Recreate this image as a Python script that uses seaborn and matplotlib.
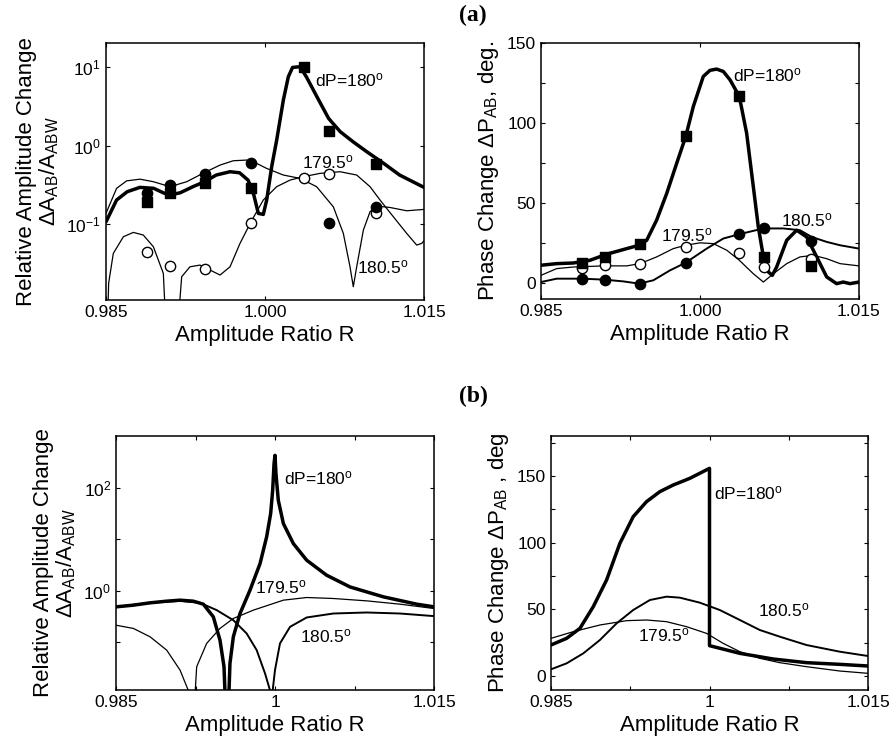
import matplotlib
matplotlib.use("Agg")
import matplotlib.pyplot as plt
import seaborn as sns

# ---------------- data ----------------
# measured points, same R for both upper panels
meas_r = [0.9889, 0.9910, 0.9943, 0.9987, 1.0037, 1.0060, 1.0105]

# (a) amplitude change, measured
amp_sq_180 = [0.19, 0.25, 0.34, 0.29, 10.0, 1.53, 0.59]
amp_fc_1805 = [0.25, 0.315, 0.44, 0.61, None, 0.105, 0.167]
amp_oc_1795 = [0.045, 0.0296, 0.0274, 0.105, 0.39, 0.44, 0.138]

# (a) amplitude change, model curves
a_amp_x180 = [0.985, 0.986, 0.987, 0.9882, 0.9895, 0.9904, 0.9910, 0.9920, 0.9932, 0.9943,
              0.9954, 0.9967, 0.9976, 0.9984, 0.9989, 0.99937, 0.99984, 1.00016, 1.00063,
              1.0011, 1.00173, 1.0022, 1.0026, 1.0033, 1.0039, 1.0049, 1.0060, 1.0071,
              1.0083, 1.0096, 1.0112, 1.0127, 1.015]
a_amp_y180 = [0.108, 0.204, 0.260, 0.295, 0.287, 0.252, 0.236, 0.252, 0.301, 0.348,
              0.423, 0.466, 0.452, 0.365, 0.250, 0.138, 0.134, 0.204, 0.539,
              1.17, 3.77, 7.46, 9.8, 10.0, 7.46, 4.16, 2.21, 1.50,
              1.12, 0.836, 0.594, 0.423, 0.295]
a_amp_x1805 = [0.985, 0.986, 0.98695, 0.98821, 0.98947, 0.99104, 0.99261, 0.99425, 0.99576,
               0.99701, 0.99827, 0.99921, 1.00016, 1.00173, 1.0033, 1.00487, 1.00645,
               1.00739, 1.00802, 1.00833, 1.00865, 1.00928, 1.00991, 1.01054, 1.01179,
               1.01337, 1.015]
a_amp_y1805 = [0.138, 0.287, 0.357, 0.375, 0.348, 0.301, 0.348, 0.452, 0.566,
               0.642, 0.655, 0.594, 0.513, 0.423, 0.384, 0.301, 0.167,
               0.0769, 0.029, 0.0162, 0.029, 0.0848, 0.145, 0.171, 0.164,
               0.149, 0.155]
a_amp_x1795 = [0.98505, 0.98525, 0.98569, 0.98664, 0.98758, 0.98852, 0.98947, 0.99041,
               0.99079, 0.99154, 0.99214, 0.99292, 0.99387, 0.99481, 0.99576, 0.9967,
               0.99764, 0.99868, 0.99984, 1.0011, 1.00236, 1.00362, 1.00519, 1.00708,
               1.00865, 1.00991, 1.01085, 1.01211, 1.01337, 1.01431, 1.01478, 1.015]
a_amp_y1795 = [0.002, 0.018, 0.0429, 0.0698, 0.0792, 0.0733, 0.0521, 0.0239,
               0.002, 0.002, 0.0217, 0.029, 0.0305, 0.0264, 0.0228, 0.029,
               0.0574, 0.108, 0.204, 0.301, 0.365, 0.403, 0.444, 0.466,
               0.423, 0.301, 0.204, 0.125, 0.0769, 0.0547, 0.0574, 0.062]

# (a) phase change, measured
ph_sq_180 = [12.7, 16.3, 24.2, 91.9, 116.6, 16.3, 10.4]
ph_fc_1805 = [2.7, 2.1, -0.4, 12.7, 30.5, 34.1, 26.1]
ph_oc_1795 = [9.6, 11.1, 12.1, 22.6, 19.0, 10.0, 14.8]

# (a) phase change, model curves
a_ph_x180 = [0.985, 0.98648, 0.98805, 0.98962, 0.9912, 0.99277, 0.99425, 0.99497, 0.99591,
             0.99686, 0.9978, 0.99865, 0.99937, 1.00031, 1.00094, 1.00157, 1.0022, 1.00283,
             1.00371, 1.0044, 1.00503, 1.0055, 1.00598, 1.00645, 1.00682, 1.00723, 1.00818,
             1.00912, 1.01006, 1.01101, 1.01195, 1.01289, 1.01352, 1.01415, 1.015]
a_ph_y180 = [11.1, 12.1, 12.5, 14.2, 18.0, 20.9, 23.6, 26.7, 39.3,
             56.0, 74.8, 91.5, 110.3, 129.1, 132.9, 133.7, 132.2, 127.0,
             116.6, 93.6, 60.2, 35.1, 16.3, 6.9, 4.8, 10.0, 26.7,
             33.0, 28.8, 16.3, 3.8, -0.4, 0.6, -0.4, 0.6]
a_ph_x1805 = [0.985, 0.98648, 0.98893, 0.99097, 0.99277, 0.99425, 0.9956, 0.99717, 0.99865,
              1.00063, 1.0022, 1.00371, 1.00598, 1.00786, 1.00943, 1.01053, 1.01195,
              1.01321, 1.015]
a_ph_y1805 = [0.6, 2.7, 2.7, 2.1, 1.0, -0.4, 1.7, 7.9, 12.7,
              21.5, 27.8, 30.5, 34.1, 34.1, 33.0, 28.8, 25.7,
              23.6, 21.5]
a_ph_x1795 = [0.985, 0.98648, 0.98805, 0.99097, 0.99308, 0.99434, 0.99591, 0.99748, 0.99865,
              1.0, 1.00126, 1.00252, 1.00371, 1.00503, 1.00598, 1.00692, 1.00818, 1.00943,
              1.01069, 1.01195, 1.01321, 1.015]
a_ph_y1795 = [4.8, 9.0, 10.0, 10.7, 10.7, 12.1, 16.3, 21.5, 23.6,
              25.1, 24.6, 20.5, 14.2, 5.8, 0.6, 5.8, 12.1, 16.3,
              17.3, 15.2, 12.1, 10.7]

# (b) amplitude change, model curves
b_amp_x180 = [0.985, 0.98664, 0.98821, 0.98978, 0.99104, 0.9923, 0.99324, 0.99418, 0.99481,
              0.99519, 0.99547, 0.9956, 0.99575, 0.99607, 0.9967, 0.99764, 0.99859, 0.99921,
              0.99959, 0.99978, 0.99991, 1.0, 1.00009, 1.00031, 1.00079, 1.00173, 1.00299,
              1.00487, 1.00708, 1.01022, 1.01337, 1.015]
b_amp_y180 = [0.490, 0.528, 0.586, 0.631, 0.660, 0.631, 0.552, 0.314, 0.111,
              0.0338, 0.001, 0.005, 0.0393, 0.129, 0.364, 1.03, 3.38, 11.1,
              31.4, 88.7, 292, 422, 187, 56.9, 20.1, 8.24, 3.92,
              2.01, 1.19, 0.766, 0.552, 0.490]
b_amp_x1805 = [0.985, 0.98821, 0.99104, 0.99292, 0.9945, 0.99607, 0.99733, 0.99827, 0.99906,
               0.99953, 0.99962, 0.99978, 1.0, 1.00047, 1.00142, 1.00299, 1.0055, 1.00865,
               1.01179, 1.015]
b_amp_y1805 = [0.490, 0.586, 0.640, 0.586, 0.423, 0.270, 0.149, 0.0711, 0.0251,
               0.0118, 0.001, 0.0118, 0.0292, 0.0957, 0.201, 0.305, 0.364, 0.381,
               0.364, 0.324]
b_amp_x1795 = [0.985, 0.98664, 0.98821, 0.98978, 0.99104, 0.99182, 0.99217, 0.99261, 0.99355,
               0.99481, 0.99607, 0.99796, 1.00079, 1.00299, 1.0055, 1.00865, 1.01179, 1.015]
b_amp_y1795 = [0.216, 0.187, 0.129, 0.0711, 0.0292, 0.0118, 0.001, 0.0338, 0.0957,
               0.187, 0.292, 0.423, 0.660, 0.743, 0.711, 0.640, 0.552, 0.455]

# (b) phase change, model curves
b_ph_x180 = [0.985, 0.98648, 0.98774, 0.989, 0.99026, 0.99152, 0.99278, 0.99404, 0.9953,
             0.99657, 0.99814, 1.0, 1.0, 1.00287, 1.00602, 1.00917, 1.01232, 1.015]
b_ph_y180 = [23.25, 28.25, 35.75, 52.0, 72.0, 99.5, 119.5, 130.75, 138.25,
             143.25, 148.25, 155.75, 22.75, 17.0, 12.75, 10.0, 8.75, 7.5]
b_ph_x1805 = [0.985, 0.98648, 0.98806, 0.98963, 0.99121, 0.99278, 0.99436, 0.99593, 0.9972,
              0.99908, 1.00097, 1.00287, 1.00476, 1.00665, 1.00917, 1.01232, 1.015]
b_ph_y1805 = [5.0, 9.5, 17.0, 27.0, 39.5, 49.5, 57.0, 59.5, 58.75,
              55.0, 49.5, 42.0, 34.5, 29.5, 23.25, 18.25, 15.0]
b_ph_x1795 = [0.985, 0.98711, 0.98963, 0.99215, 0.99404, 0.99593, 0.99782, 0.99971, 1.00129,
              1.00287, 1.00476, 1.00665, 1.00917, 1.01232, 1.015]
b_ph_y1795 = [28.25, 33.25, 38.25, 41.5, 42.0, 40.75, 37.0, 32.0, 24.5,
              18.25, 13.25, 10.0, 7.0, 3.75, 2.0]

# ---------------- style ----------------
sns.set_style("ticks")
plt.rcParams["font.family"] = ["Liberation Sans", "DejaVu Sans"]
plt.rcParams["mathtext.default"] = "regular"
plt.rcParams.update({
    "xtick.direction": "in", "ytick.direction": "in",
    "xtick.top": True, "ytick.right": True,
    "xtick.major.size": 3, "ytick.major.size": 3,
    "xtick.minor.size": 0, "ytick.minor.size": 0,
    "axes.linewidth": 1.1, "axes.edgecolor": "black",
    "text.color": "black", "axes.labelcolor": "black",
    "xtick.color": "black", "ytick.color": "black",
    "xtick.labelsize": 12.5, "ytick.labelsize": 12.5,
    "axes.labelsize": 16,
})

THICK, MED, THIN = 2.5, 1.4, 0.9
ANN = 12.5
DEG = "$^o$"

fig = plt.figure(figsize=(8.94, 7.45), dpi=100)
ax_a1 = fig.add_axes([106 / 894, 1 - 300 / 745, 318 / 894, 257 / 745])
ax_a2 = fig.add_axes([541 / 894, 1 - 299 / 745, 318 / 894, 256 / 745])
ax_b1 = fig.add_axes([116 / 894, 1 - 690 / 745, 318 / 894, 254 / 745])
ax_b2 = fig.add_axes([551 / 894, 1 - 690 / 745, 317 / 894, 254 / 745])


def curve(ax, x, y, lw):
    sns.lineplot(x=x, y=y, ax=ax, color="black", linewidth=lw,
                 sort=False, estimator=None, legend=False)


def points(ax, y, marker, face):
    xs = [r for r, v in zip(meas_r, y) if v is not None]
    ys = [v for v in y if v is not None]
    sns.scatterplot(x=xs, y=ys, ax=ax, marker=marker, s=55, color=face,
                    edgecolor="black", linewidth=1.0, zorder=5, legend=False)


# -----------------------------
# (a) amplitude
# -----------------------------
ax = ax_a1
ax.set_yscale("log")
curve(ax, a_amp_x1795, a_amp_y1795, THIN)
curve(ax, a_amp_x1805, a_amp_y1805, THIN)
curve(ax, a_amp_x180, a_amp_y180, THICK)
points(ax, amp_oc_1795, "o", "white")
points(ax, amp_fc_1805, "o", "black")
points(ax, amp_sq_180, "s", "black")
ax.set_xlim(0.985, 1.015)
ax.set_ylim(0.011, 20)
ax.set_xticks([0.985, 1.0, 1.015])
ax.set_xticklabels(["0.985", "1.000", "1.015"])
ax.set_yticks([0.1, 1, 10])
ax.set_yticklabels(["10$^{-1}$", "10$^{0}$", "10$^{1}$"])
ax.set_xlabel("Amplitude Ratio R")
ax.set_ylabel("Relative Amplitude Change\nΔA$_{AB}$/A$_{ABW}$", linespacing=1.0)
ax.text(1.0047, 6.8, "dP=180" + DEG, fontsize=ANN, va="center")
ax.text(1.0035, 0.62, "179.5" + DEG, fontsize=ANN, va="center")
ax.text(1.0087, 0.029, "180.5" + DEG, fontsize=ANN, va="center")

# -----------------------------
# (a) phase
# -----------------------------
ax = ax_a2
curve(ax, a_ph_x1795, a_ph_y1795, THIN)
curve(ax, a_ph_x1805, a_ph_y1805, MED)
curve(ax, a_ph_x180, a_ph_y180, THICK)
points(ax, ph_oc_1795, "o", "white")
points(ax, ph_fc_1805, "o", "black")
points(ax, ph_sq_180, "s", "black")
ax.set_xlim(0.985, 1.015)
ax.set_ylim(-10, 150)
ax.set_xticks([0.985, 1.0, 1.015])
ax.set_xticklabels(["0.985", "1.000", "1.015"])
ax.set_yticks([0, 25, 50, 75, 100, 125, 150])
ax.set_yticklabels(["0", "", "50", "", "100", "", "150"])
ax.set_xlabel("Amplitude Ratio R")
ax.set_ylabel("Phase Change ΔP$_{AB}$, deg.")
ax.text(1.0031, 129.5, "dP=180" + DEG, fontsize=ANN, va="center")
ax.text(0.9963, 30, "179.5" + DEG, fontsize=ANN, va="center")
ax.text(1.0076, 39.3, "180.5" + DEG, fontsize=ANN, va="center")

# -----------------------------
# (b) amplitude
# -----------------------------
ax = ax_b1
ax.set_yscale("log")
curve(ax, b_amp_x1795, b_amp_y1795, THIN)
curve(ax, b_amp_x1805, b_amp_y1805, MED)
curve(ax, b_amp_x180, b_amp_y180, THICK)
ax.set_xlim(0.985, 1.015)
ax.set_ylim(0.012, 1000)
ax.set_xticks([0.985, 0.9925, 1.0, 1.0075, 1.015])
ax.set_xticklabels(["0.985", "", "1", "", "1.015"])
ax.set_yticks([0.1, 1, 10, 100])
ax.set_yticklabels(["", "10$^{0}$", "", "10$^{2}$"])
ax.set_xlabel("Amplitude Ratio R")
ax.set_ylabel("Relative Amplitude Change\nΔA$_{AB}$/A$_{ABW}$", linespacing=1.0)
ax.text(1.00085, 149, "dP=180" + DEG, fontsize=ANN, va="center")
ax.text(0.9981, 1.19, "179.5" + DEG, fontsize=ANN, va="center")
ax.text(1.0024, 0.129, "180.5" + DEG, fontsize=ANN, va="center")

# -----------------------------
# (b) phase
# -----------------------------
ax = ax_b2
curve(ax, b_ph_x1795, b_ph_y1795, THIN)
curve(ax, b_ph_x1805, b_ph_y1805, MED)
curve(ax, b_ph_x180, b_ph_y180, THICK)
ax.set_xlim(0.985, 1.015)
ax.set_ylim(-10.5, 180)
ax.set_xticks([0.985, 0.9925, 1.0, 1.0075, 1.015])
ax.set_xticklabels(["0.985", "", "1", "", "1.015"])
ax.set_yticks([0, 25, 50, 75, 100, 125, 150, 175])
ax.set_yticklabels(["0", "", "50", "", "100", "", "150", ""])
ax.set_xlabel("Amplitude Ratio R")
ax.set_ylabel("Phase Change ΔP$_{AB}$ , deg")
ax.text(1.0004, 137, "dP=180" + DEG, fontsize=ANN, va="center")
ax.text(0.9932, 30.75, "179.5" + DEG, fontsize=ANN, va="center")
ax.text(1.0046, 49.5, "180.5" + DEG, fontsize=ANN, va="center")

for ax in (ax_a1, ax_a2, ax_b1, ax_b2):
    for s in ax.spines.values():
        s.set_visible(True)

fig.text(473 / 894, 1 - 15 / 745, "(a)", fontsize=17, fontweight="bold",
         family=["Liberation Serif", "DejaVu Serif"], ha="center", va="center")
fig.text(473 / 894, 1 - 396 / 745, "(b)", fontsize=17, fontweight="bold",
         family=["Liberation Serif", "DejaVu Serif"], ha="center", va="center")

fig.savefig("out.png", dpi=100)
